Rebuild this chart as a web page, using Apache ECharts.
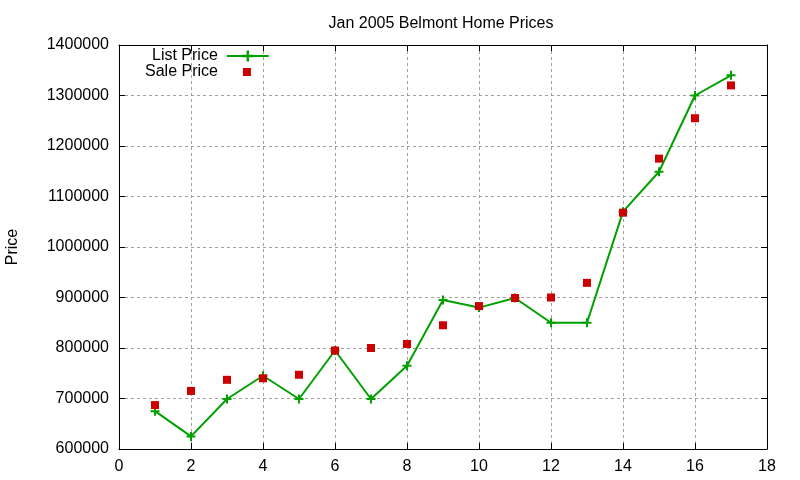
<!DOCTYPE html>
<html lang="en">
<head>
    <meta charset="utf-8"/>
    <title>Jan 2005 Belmont Home Prices</title>
    <script src="https://cdn.jsdelivr.net/npm/echarts@6/dist/echarts.min.js"></script>
    <style>
        html, body {
            margin: 0;
            background: #FFFFFF;
        }

        #chart {
            width: 800px;
            height: 480px;
        }
    </style>
</head>
<body>
<div id="chart"></div>
<script>
    // house number on the x axis, prices
    var houses = [1, 2, 3, 4, 5, 6, 7, 8, 9, 10, 11, 12, 13, 14, 15, 16, 17];
    var listPrice = [675000, 625000, 699000, 745000, 699000, 795000, 699000, 765000, 895000,
        880000, 899000, 850000, 850000, 1070000, 1149000, 1300000, 1340000];
    var salePrice = [687000, 715000, 737000, 740000, 747000, 795000, 800000, 808000, 845000,
        883000, 899000, 900000, 929000, 1068000, 1175000, 1255000, 1320000];

    var font = '"Liberation Sans", Arial, sans-serif';
    var plusIcon = 'path://M3.5,0h2v3.5h3.5v2h-3.5v3.5h-2v-3.5h-3.5v-2h3.5z';

    function pairs(ys) {
        return houses.map(function (x, i) {
            return [x, ys[i]]
        })
    }

    // mirrored axes so the frame gets ticks on all four sides
    function frameAxis(extra) {
        return Object.assign({
            axisLine: {show: true, onZero: false, lineStyle: {color: '#000', width: 1}},
            axisTick: {show: true, inside: true, length: 6, lineStyle: {color: '#000'}},
            axisLabel: {
                color: '#000', fontSize: 16, fontFamily: font, margin: 10,
                formatter: function (v) {
                    return String(v)
                }
            },
            splitLine: {show: true, lineStyle: {color: '#a0a0a0', width: 1, type: [3, 3]}}
        }, extra)
    }

    var chart = echarts.init(document.getElementById('chart'));
    chart.setOption({
        animation: false,
        backgroundColor: '#fff',
        title: {
            text: 'Jan 2005 Belmont Home Prices',
            left: 436,
            textAlign: 'center',
            top: 11,
            textStyle: {color: '#000', fontSize: 16, fontWeight: 'normal', fontFamily: font}
        },
        grid: {left: 119, right: 33, top: 45, bottom: 31, containLabel: false, outerBoundsMode: 'none'},
        legend: [{
            data: ['List Price'],
            orient: 'vertical',
            align: 'right',
            left: 152,
            top: 48,
            padding: 0,
            itemWidth: 42,
            itemHeight: 14,
            textStyle: {color: '#000', fontSize: 16, fontFamily: font, padding: [0, 4, 0, 0]}
        }, {
            data: [{name: 'Sale Price', icon: 'rect'}],
            orient: 'vertical',
            align: 'right',
            left: 145,
            top: 64,
            padding: 0,
            itemWidth: 8,
            itemHeight: 8,
            textStyle: {color: '#000', fontSize: 16, fontFamily: font, padding: [0, 20, 0, 0]}
        }],
        xAxis: [
            frameAxis({type: 'value', min: 0, max: 18, interval: 2, position: 'bottom'}),
            frameAxis({
                type: 'value', min: 0, max: 18, interval: 2, position: 'top',
                axisLabel: {show: false}, splitLine: {show: false}
            })
        ],
        yAxis: [
            frameAxis({
                type: 'value', min: 600000, max: 1400000, interval: 100000, position: 'left',
                name: 'Price', nameLocation: 'middle', nameGap: 98, nameRotate: 90,
                nameTextStyle: {color: '#000', fontSize: 16, fontFamily: font}
            }),
            frameAxis({
                type: 'value', min: 600000, max: 1400000, interval: 100000, position: 'right',
                axisLabel: {show: false}, splitLine: {show: false}
            })
        ],
        series: [{
            name: 'List Price',
            type: 'line',
            data: pairs(listPrice),
            color: '#00a000',
            symbol: plusIcon,
            symbolSize: 9,
            showAllSymbol: true,
            lineStyle: {width: 2, color: '#00a000'},
            itemStyle: {color: '#00a000'},
            z: 3
        }, {
            name: 'Sale Price',
            type: 'scatter',
            data: pairs(salePrice),
            color: '#cc0000',
            symbol: 'rect',
            symbolSize: 8,
            itemStyle: {color: '#cc0000', opacity: 1},
            z: 4
        }]
    });
</script>
</body>
</html>
